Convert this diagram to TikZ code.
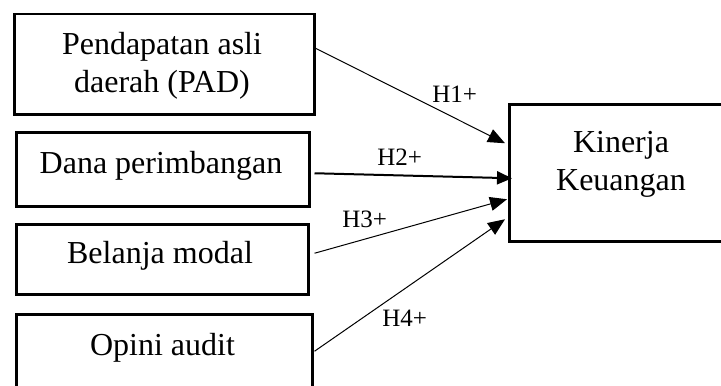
\documentclass[tikz,border=0pt]{standalone}
\usepackage{fontspec}
\setmainfont{Liberation Serif}
\usetikzlibrary{arrows.meta}
\begin{document}
\begin{tikzpicture}[x=0.5pt,y=-0.5pt,
  box/.style={draw, line width=1.25pt, inner sep=0, anchor=north west},
  txt/.style={inner sep=0, anchor=base, font=\fontsize{16}{18.5}\selectfont},
  hyp/.style={inner sep=0, anchor=base west, font=\fontsize{12.5}{15}\selectfont},
  conn/.style={line width=0.5pt, -{Triangle[length=8.5pt,width=7pt]}},
  connthick/.style={line width=1pt, -{Triangle[length=7.5pt,width=6.5pt]}}]
\useasboundingbox (0,0) rectangle (721,385);
% boxes
\node[box, minimum width=150pt, minimum height=50pt] (b1) at (13,13) {};
\node[box, minimum width=146.5pt, minimum height=37pt] (b2) at (15,131) {};
\node[box, minimum width=146pt, minimum height=35pt] (b3) at (15,223) {};
\node[box, minimum width=148pt, minimum height=45pt] (b4) at (15,313) {};
\node[box, minimum width=113pt, minimum height=68.5pt] (k) at (508,103) {};
% texts
\node[txt] (t1a) at (162,55) {Pendapatan asli};
\node[txt] (t1b) at (162,92) {daerah (PAD)};
\node[txt] (t2) at (161,173) {Dana perimbangan};
\node[txt] (t3) at (160,263) {Belanja modal};
\node[txt] (t4) at (162.5,355) {Opini audit};
\node[txt] (tka) at (621,152) {Kinerja};
\node[txt] (tkb) at (621,190) {Keuangan};
% connectors
\draw[conn] ([yshift=8pt]b1.east) -- ([xshift=-1.5pt,yshift=14.75pt]k.west);
\draw[connthick] ([xshift=2pt,yshift=-2pt]b2.east) -- ([xshift=2pt,yshift=-2.75pt]k.west);
\draw[conn] ([xshift=2.5pt,yshift=3pt]b3.east) -- ([xshift=-0.5pt,yshift=-13.25pt]k.west);
\draw[conn] ([xshift=0.5pt,yshift=4pt]b4.east) -- ([xshift=-1.5pt,yshift=-23.25pt]k.west);
% labels
\node[hyp] (h1) at (432,103) {H1+};
\node[hyp] (h2) at (377,165) {H2+};
\node[hyp] (h3) at (342,227) {H3+};
\node[hyp] (h4) at (382,326) {H4+};
\end{tikzpicture}
\end{document}
